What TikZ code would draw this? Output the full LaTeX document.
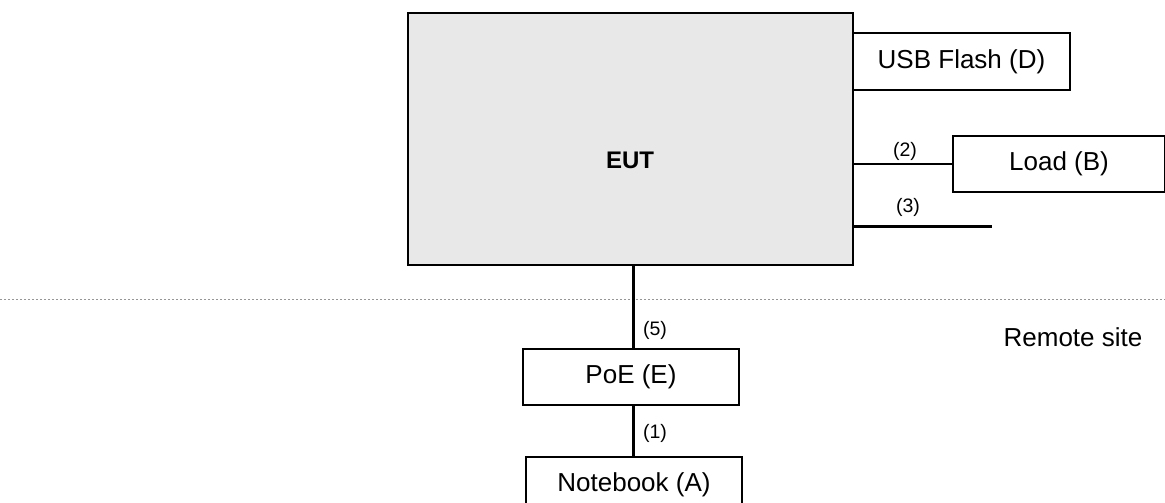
\documentclass[tikz,border=0pt]{standalone}
\usepackage{fontspec}
\setmainfont{Liberation Sans}
\usetikzlibrary{positioning}
\definecolor{eutgray}{RGB}{232,232,232}
\definecolor{sitegray}{RGB}{150,150,150}

\begin{document}
\begin{tikzpicture}[x=1pt,y=-1pt,
  box/.style={draw,line width=2pt,minimum width=216pt,minimum height=56pt,inner sep=0pt,font=\fontsize{26}{30}\selectfont},
  cable/.style={line width=2pt},
  thickcable/.style={line width=3pt},
  num/.style={font=\fontsize{19.5}{23}\selectfont,inner sep=0pt}]
\useasboundingbox (0,0) rectangle (1165,503);
% border between the two sites
\draw [sitegray,line width=1pt,dash pattern=on 2pt off 2pt] (0,299)--(1165,299);
\node [font=\fontsize{26}{30}\selectfont] (site) at (1073,337) {Remote site};
% equipment
\node [box,fill=eutgray,minimum width=445pt,minimum height=252pt] (eut) at (630.5,139) {};
\node [font=\bfseries\fontsize{24}{28}\selectfont] (eutname) at (630,160) {EUT};
\node [box,minimum width=217pt,minimum height=57pt] (usb) at (961.5,61.5) {USB Flash (D)};
\node [box,minimum width=212pt] (load) at (1059,164) {Load (B)};
\node [box] (poe) at (631,377) {PoE (E)};
\node [box] (nb) at (634,485) {Notebook (A)};
\coordinate (open3) at (992,226);
% cables
\draw [cable] (eut.east |- load.west)--(load.west);
\draw [thickcable] (eut.east |- open3)--(open3);
\draw [thickcable] (633,0 |- eut.south)--(633,0 |- poe.north);
\draw [thickcable] (633,0 |- poe.south)--(633,0 |- nb.north);
\node [num] (n2) at (905,151) {(2)};
\node [num] (n3) at (908,207) {(3)};
\node [num] (n5) at (655,330) {(5)};
\node [num] (n1) at (655,433) {(1)};
\end{tikzpicture}
\end{document}
